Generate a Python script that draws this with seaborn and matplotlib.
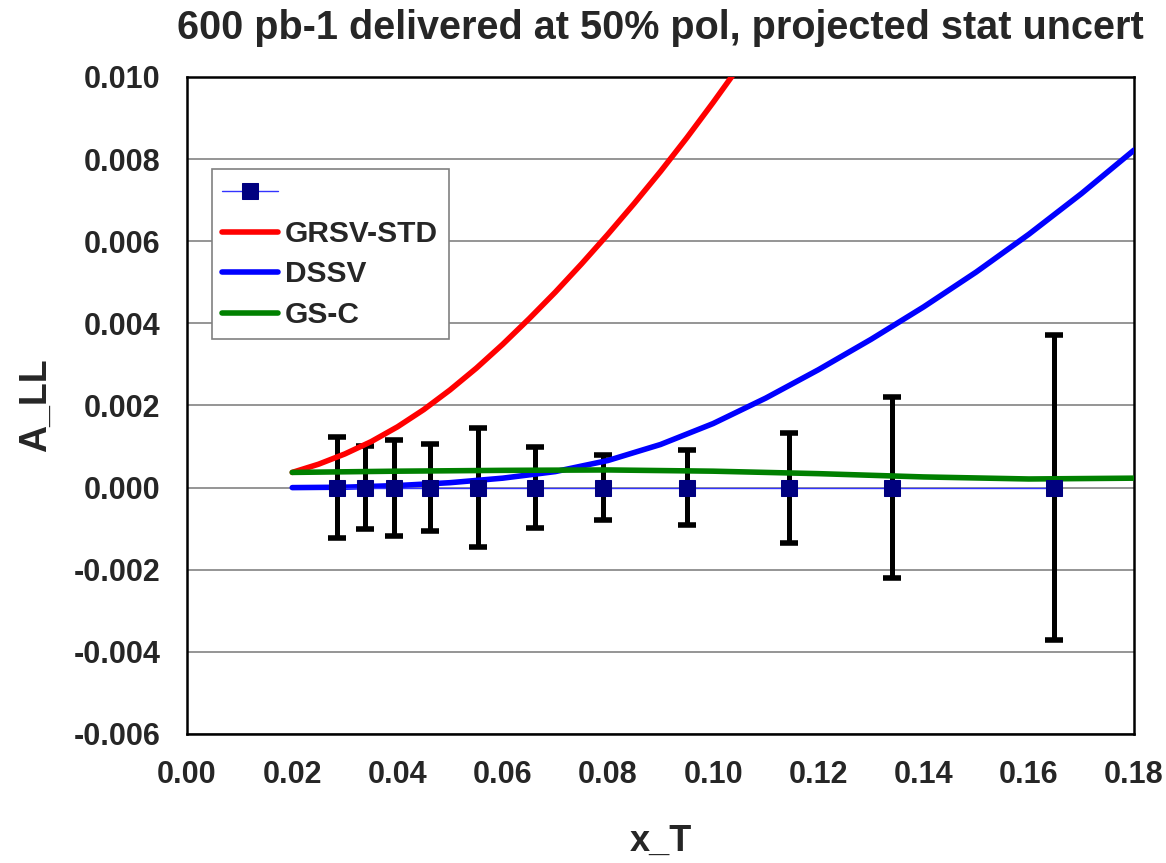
import numpy as np
import pandas as pd
import matplotlib
matplotlib.use("Agg")
import matplotlib.pyplot as plt
import seaborn as sns

# Projected data points (x_T bins) with statistical uncertainties
xt_points = [0.0285, 0.0338, 0.0394, 0.0462, 0.0553, 0.0662, 0.0790, 0.0950, 0.1144, 0.1339, 0.1648]
all_points = [0.0, 0.0, 0.0, 0.0, 0.0, 0.0, 0.0, 0.0, 0.0, 0.0, 0.0]
stat_err = [0.00123, 0.00101, 0.00117, 0.00105, 0.00145, 0.00098, 0.00079, 0.00092, 0.00134, 0.00221, 0.00372]

# Model predictions
grsv_x = [0.020, 0.025, 0.030, 0.035, 0.040, 0.045, 0.050, 0.055, 0.060, 0.065,
          0.070, 0.075, 0.080, 0.085, 0.090, 0.095, 0.100, 0.105]
grsv_y = [0.00037, 0.00057, 0.00082, 0.00112, 0.00148, 0.00190, 0.00238, 0.00291, 0.00349, 0.00411,
          0.00476, 0.00545, 0.00617, 0.00692, 0.00770, 0.00852, 0.00938, 0.01027]

dssv_x = [0.020, 0.030, 0.040, 0.050, 0.060, 0.070, 0.080, 0.090, 0.100, 0.110,
          0.120, 0.130, 0.140, 0.150, 0.160, 0.170, 0.180]
dssv_y = [0.00000, 0.00001, 0.00005, 0.00012, 0.00023, 0.00039, 0.00066, 0.00105, 0.00156, 0.00218,
          0.00287, 0.00361, 0.00440, 0.00525, 0.00617, 0.00716, 0.00822]

gsc_x = [0.020, 0.040, 0.060, 0.080, 0.100, 0.120, 0.140, 0.160, 0.180]
gsc_y = [0.00037, 0.00040, 0.00042, 0.00043, 0.00040, 0.00034, 0.00026, 0.00021, 0.00023]

x_ticks = [0.00, 0.02, 0.04, 0.06, 0.08, 0.10, 0.12, 0.14, 0.16, 0.18]
y_ticks = [-0.006, -0.004, -0.002, 0.000, 0.002, 0.004, 0.006, 0.008, 0.010]

sns.set_style("white")
plt.rcParams["font.family"] = ["Liberation Sans", "DejaVu Sans"]
plt.rcParams["font.weight"] = "bold"

fig = plt.figure(figsize=(11.66, 8.63), dpi=100)
ax = fig.add_axes([0.1604, 0.1495, 0.8122, 0.7613])

pts = pd.DataFrame({"x": xt_points, "y": all_points, "err": stat_err})
grsv = pd.DataFrame({"x": grsv_x, "y": grsv_y})
dssv = pd.DataFrame({"x": dssv_x, "y": dssv_y})
gsc = pd.DataFrame({"x": gsc_x, "y": gsc_y})

# Statistical error bars, drawn beneath the curves and markers
eb = ax.errorbar(pts["x"], pts["y"], yerr=pts["err"], fmt="none", ecolor="black",
                 elinewidth=3.6, capsize=6.2, capthick=4.0, zorder=2)
for cap in eb[1]:
    cap.set_solid_capstyle("round")

curve_lw = 4.0
sns.lineplot(data=grsv, x="x", y="y", ax=ax, color="#ff0000", lw=curve_lw,
             label="GRSV-STD", zorder=3, sort=False)
sns.lineplot(data=dssv, x="x", y="y", ax=ax, color="#0000ff", lw=curve_lw,
             label="DSSV", zorder=3, sort=False)
sns.lineplot(data=gsc, x="x", y="y", ax=ax, color="#008000", lw=curve_lw,
             label="GS-C", zorder=3, sort=False)
sns.lineplot(data=pts, x="x", y="y", ax=ax, color="#3333ff", lw=1.0,
             marker="s", markersize=11.5, markerfacecolor="#000080",
             markeredgecolor="#000080", label=" ", zorder=4, sort=False)

for line in ax.get_lines():
    line.set_solid_capstyle("round")
    line.set_solid_joinstyle("round")

ax.set_xlim(0.0, 0.18)
ax.set_ylim(-0.006, 0.010)
ax.set_xticks(x_ticks)
ax.set_yticks(y_ticks)
ax.set_xticklabels([f"{v:.2f}" for v in x_ticks])
ax.set_yticklabels([f"{v:.3f}" for v in y_ticks])

ax.grid(axis="y", color="#8c8c8c", lw=1.3, zorder=0)
ax.grid(axis="x", visible=False)
ax.set_axisbelow(True)

for s in ax.spines.values():
    s.set_color("black")
    s.set_linewidth(1.8)

ax.tick_params(axis="both", which="major", direction="out", length=6, width=1,
               color="#808080", labelsize=22, pad=13)
for lab in ax.get_xticklabels() + ax.get_yticklabels():
    lab.set_fontweight("bold")

ax.set_xlabel("x_T", fontsize=26, fontweight="bold", labelpad=24)
ax.set_ylabel("A_LL", fontsize=27, fontweight="bold", labelpad=14)
ax.set_title("600 pb-1 delivered at 50% pol, projected stat uncert",
             fontsize=28.5, fontweight="bold", pad=27)

handles, labels = ax.get_legend_handles_labels()
order = [labels.index(" "), labels.index("GRSV-STD"), labels.index("DSSV"), labels.index("GS-C")]
leg = ax.legend([handles[i] for i in order], [labels[i] for i in order],
                loc="upper left", bbox_to_anchor=(0.0264, 0.86), borderaxespad=0,
                frameon=True, fancybox=False, edgecolor="#808080", framealpha=1,
                prop={"size": 21.5, "weight": "bold"}, handlelength=1.85,
                handletextpad=0.25, labelspacing=0.42, borderpad=0.35)
leg.get_frame().set_linewidth(1.2)

fig.savefig("out.png", dpi=100)
